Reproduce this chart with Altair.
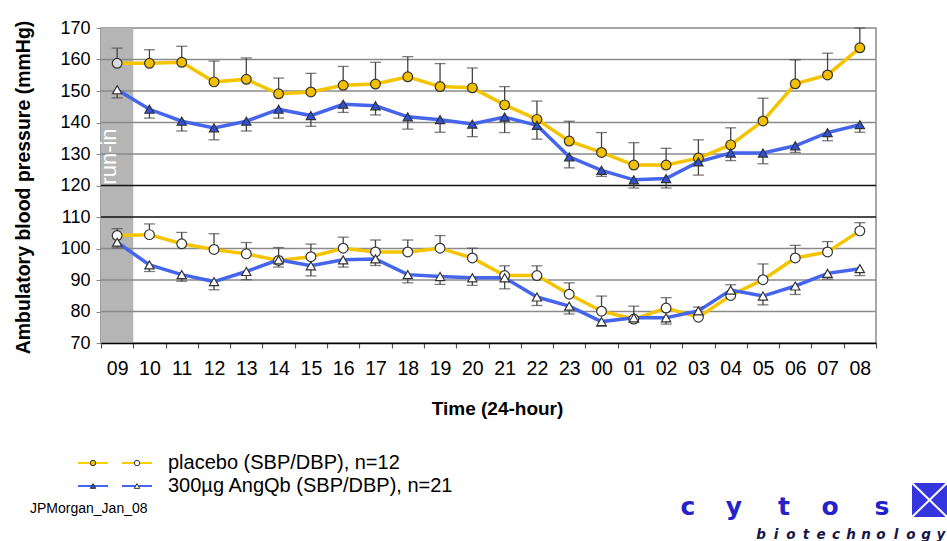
import altair as alt
import pandas as pd

# ---------------- data ----------------
hours = ["09", "10", "11", "12", "13", "14", "15", "16", "17", "18", "19", "20",
         "21", "22", "23", "00", "01", "02", "03", "04", "05", "06", "07", "08"]

placebo_sbp = [158.8, 158.8, 159.1, 152.9, 153.7, 149.1, 149.7, 151.8, 152.2, 154.5, 151.4, 151.0,
               145.6, 141.0, 134.1, 130.5, 126.5, 126.5, 128.7, 132.9, 140.5, 152.3, 155.1, 163.7]
placebo_sbp_err = [163.6, 163.1, 164.2, 159.5, 160.5, 154.1, 155.6, 157.8, 159.1, 160.9, 158.7, 157.3,
                   151.4, 146.8, 140.4, 136.8, 133.6, 131.8, 134.5, 138.3, 147.7, 159.9, 162.0, 170.0]

angqb_sbp = [150.4, 144.2, 140.4, 138.3, 140.4, 144.2, 142.2, 145.8, 145.3, 141.8, 140.9, 139.5,
             141.7, 139.1, 129.1, 124.8, 121.8, 122.2, 127.5, 130.3, 130.3, 132.6, 136.8, 139.3]
angqb_sbp_err = [147.8, 141.4, 137.3, 134.5, 137.3, 141.4, 138.8, 143.2, 142.4, 137.9, 136.9, 135.5,
                 136.8, 134.7, 125.6, 122.9, 119.2, 119.2, 123.3, 127.9, 126.9, 130.5, 134.2, 136.9]

placebo_dbp = [104.1, 104.4, 101.5, 99.7, 98.3, 96.2, 97.4, 100.1, 98.9, 98.9, 100.1, 97.0,
               91.4, 91.4, 85.5, 80.1, 77.6, 81.1, 78.2, 85.1, 90.1, 97.0, 98.9, 105.6]
placebo_dbp_err = [106.3, 107.8, 105.1, 104.7, 101.9, 100.3, 101.4, 103.6, 102.7, 102.7, 104.1, 100.1,
                   94.5, 94.5, 89.1, 84.9, 81.7, 84.4, 81.4, 88.5, 95.1, 101.0, 102.2, 108.2]

angqb_dbp = [102.0, 94.8, 91.7, 89.5, 92.7, 96.4, 94.5, 96.4, 96.7, 91.7, 91.1, 90.7,
             90.7, 84.6, 81.7, 76.8, 78.0, 78.0, 80.2, 86.8, 84.9, 88.1, 92.1, 93.6]
angqb_dbp_err = [100.2, 92.7, 89.6, 86.9, 90.1, 94.1, 91.3, 94.1, 94.6, 89.1, 88.6, 88.3,
                 87.2, 81.9, 79.2, 75.3, 76.6, 76.0, 78.5, 85.5, 82.1, 85.4, 90.3, 91.4]

y_ticks = [70, 80, 90, 100, 110, 120, 130, 140, 150, 160, 170]
grey_grid = [80, 90, 100, 130, 140, 150, 160]
black_grid = [110, 120]

legend_labels = ["placebo (SBP/DBP), n=12", "300µg AngQb (SBP/DBP), n=21"]
logo_letters = ["c", "y", "t", "o", "s"]
logo_sub = list("biotechnology")

series = {
    "placebo_sbp": (placebo_sbp, placebo_sbp_err),
    "placebo_dbp": (placebo_dbp, placebo_dbp_err),
    "angqb_sbp": (angqb_sbp, angqb_sbp_err),
    "angqb_dbp": (angqb_dbp, angqb_dbp_err),
}
rows = []
for name, (vals, errs) in series.items():
    for h, v, e in zip(hours, vals, errs):
        rows.append({"series": name, "hour": h, "value": v, "err": e})
df = pd.DataFrame(rows)

FONT = "Liberation Sans"
YELLOW_LINE = "#F5C400"
YELLOW_FILL = "#F2C000"
BLUE_LINE = "#4565EC"
BLUE_FILL = "#2F52D6"
OUTLINE = "#333333"

# ---------------- scales / channels ----------------
x_scale = alt.Scale(type="band", domain=hours, paddingInner=0, paddingOuter=0)
x_axis = alt.Axis(
    title="Time (24-hour)", titleFont=FONT, titleFontSize=19, titleFontWeight="bold",
    titleColor="black", titleX=396, titleY=65, titleBaseline="middle", titleAlign="center",
    labelFont=FONT, labelFontSize=19.5, labelColor="black", labelAngle=0, labelPadding=11,
    tickBand="extent", tickSize=5, tickColor="#555555", tickWidth=1.2,
    domainColor="black", domainWidth=1.5, grid=False,
)
y_scale = alt.Scale(domain=[70, 170], nice=False, zero=False)
y_axis = alt.Axis(
    values=y_ticks, title="Ambulatory blood pressure (mmHg)", titleFont=FONT,
    titleFontSize=19.5, titleFontWeight="bold", titleColor="black", titleAngle=270,
    titleX=-78, titleY=159, titleBaseline="middle", titleAlign="center",
    labelFont=FONT, labelFontSize=18, labelColor="black", labelPadding=6,
    tickSize=5, tickColor="#888888", domainColor="#888888", domainWidth=1.5, grid=False,
)


def X(field="hour"):
    return alt.X(f"{field}:N", sort=hours, scale=x_scale, axis=x_axis)


def Y(field):
    return alt.Y(f"{field}:Q", scale=y_scale, axis=y_axis)


one = pd.DataFrame({"k": [0]})

# ---------------- plot layers ----------------
band = alt.Chart(pd.DataFrame({"hour": [hours[0]], "top": [170], "bottom": [70]})).mark_rect(
    color="#b5b5b5").encode(x=X(), y=Y("top"), y2="bottom:Q")

run_in = alt.Chart(pd.DataFrame({"hour": [hours[0]], "pos": [129.2]})).mark_text(
    text="run-in", angle=270, color="white", font=FONT, fontSize=22, baseline="alphabetic",
    align="center", dy=-1).encode(x=X(), y=Y("pos"))

grid_grey = alt.Chart(pd.DataFrame({"level": grey_grid})).mark_rule(
    color="#8a8a8a", strokeWidth=1.5).encode(y=Y("level"))
grid_black = alt.Chart(pd.DataFrame({"level": black_grid})).mark_rule(
    color="#111111", strokeWidth=1.5).encode(y=Y("level"))

layers = [band, grid_grey, grid_black, run_in]

base = alt.Chart(df)
style = {
    "placebo_sbp": (YELLOW_LINE, "circle", YELLOW_FILL, "#dadada"),
    "placebo_dbp": (YELLOW_LINE, "circle", "white", "white"),
    "angqb_sbp": (BLUE_LINE, "triangle-up", BLUE_FILL, "white"),
    "angqb_dbp": (BLUE_LINE, "triangle-up", "white", "white"),
}
for name, (lc, shape, fill, first_fill) in style.items():
    layers.append(base.transform_filter(alt.datum.series == name).mark_line(
        color=lc, strokeWidth=3.5).encode(x=X(), y=Y("value")))
for name in style:
    sub = base.transform_filter(alt.datum.series == name)
    layers.append(sub.mark_rule(color="#444444", strokeWidth=1.3).encode(
        x=X(), y=Y("value"), y2="err:Q"))
    layers.append(sub.mark_tick(color="#444444", thickness=1.3, size=11).encode(
        x=X(), y=Y("err")))
for name, (lc, shape, fill, first_fill) in style.items():
    sub = base.transform_filter(alt.datum.series == name)
    layers.append(sub.mark_point(
        shape=shape, filled=True, stroke=OUTLINE, strokeWidth=1.2, opacity=1,
        size=95 if shape == "circle" else 85).encode(
        x=X(), y=Y("value"),
        fill=alt.condition(alt.datum.hour == hours[0], alt.value(first_fill), alt.value(fill))))

# ---------------- legend (manual) ----------------
leg_rows = [
    (legend_labels[0], 435, "#F5CF00", "circle", YELLOW_FILL),
    (legend_labels[1], 458, BLUE_LINE, "triangle-up", BLUE_FILL),
]
for label, ly, lc, shape, fill in leg_rows:
    for x1, x2, xm, f in [(-23, 7, -8, fill), (21, 51, 36, "white")]:
        layers.append(alt.Chart(one).mark_rule(color=lc, strokeWidth=2).encode(
            x=alt.value(x1), x2=alt.value(x2), y=alt.value(ly)))
        layers.append(alt.Chart(one).mark_point(
            shape=shape, filled=True, fill=f, stroke=OUTLINE, strokeWidth=1, opacity=1,
            size=30).encode(x=alt.value(xm), y=alt.value(ly)))
    layers.append(alt.Chart(one).mark_text(
        text=label, align="left", baseline="middle", font=FONT, fontSize=20,
        color="black").encode(x=alt.value(67), y=alt.value(ly)))

layers.append(alt.Chart(one).mark_text(
    text="JPMorgan_Jan_08", align="left", baseline="middle", font=FONT, fontSize=14,
    color="black").encode(x=alt.value(-71), y=alt.value(481)))

# ---------------- logo ----------------
logo_x = [587, 633, 683, 729, 781]
for ch, lx in zip(logo_letters, logo_x):
    layers.append(alt.Chart(one).mark_text(
        text=ch, align="center", baseline="alphabetic", font="DejaVu Sans", fontWeight="bold",
        fontSize=25, color="#2323c8").encode(x=alt.value(lx), y=alt.value(487)))
for i, ch in enumerate(logo_sub):
    layers.append(alt.Chart(one).mark_text(
        text=ch, align="center", baseline="alphabetic", font="DejaVu Sans",
        fontStyle="italic", fontWeight="bold", fontSize=13.5, color="#15154a").encode(
        x=alt.value(660 + 15 * i), y=alt.value(511)))
layers.append(alt.Chart(one).mark_rect(color="#3535e0").encode(
    x=alt.value(811), x2=alt.value(846), y=alt.value(455), y2=alt.value(489)))
for (a, b, c, d) in [(811, 846, 455, 489), (811, 846, 489, 455)]:
    layers.append(alt.Chart(one).mark_rule(color="white", strokeWidth=2).encode(
        x=alt.value(a), x2=alt.value(b), y=alt.value(c), y2=alt.value(d)))

chart = alt.layer(*layers).properties(
    width=775, height=315,
    autosize=alt.AutoSizeParams(type="none"),
    padding={"left": 101, "top": 28, "right": 71, "bottom": 198},
    background="white",
).configure_view(stroke="#8a8a8a", strokeWidth=1.5)

chart.save("out.html", embed_options={"renderer": "svg", "actions": False})
